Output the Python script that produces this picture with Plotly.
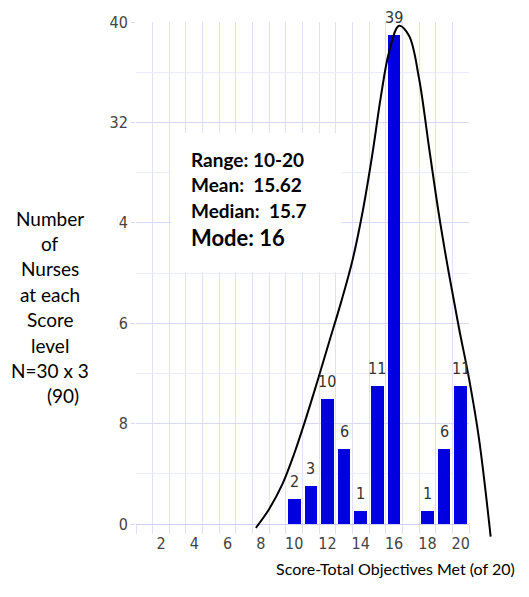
import plotly.graph_objects as go

# ---------------- data ----------------
scores = [10, 11, 12, 13, 14, 15, 16, 17, 18, 19, 20]
counts = [2, 3, 10, 6, 1, 11, 39, 0, 1, 6, 11]
x_tick_vals = [2, 4, 6, 8, 10, 12, 14, 16, 18, 20]
x_tick_text = ["2", "4", "6", "8", "10", "12", "14", "16", "18", "20"]
y_tick_vals = [0, 8, 16, 24, 32, 40]
y_tick_text = ["0", "8", "16", "24", "32", "40"]
y_minor_vals = [4, 12, 20, 28, 36]
curve_x = [7.7, 8.5, 9.3, 10.0, 10.7, 11.4, 12.1, 12.8, 13.5, 14.1, 14.7, 15.2,
           15.7, 16.3, 16.9, 17.5, 18.1, 18.7, 19.3, 19.9, 20.5, 21.1, 21.8]
curve_y = [-0.3, 1.2, 3.2, 5.6, 8.4, 11.4, 14.5, 17.6, 21.0, 24.8, 29.5, 34.0,
           37.6, 39.7, 38.9, 35.5, 30.0, 24.6, 19.9, 15.6, 11.6, 6.8, -1.0]
stats_lines = ["Range: 10-20", "Mean:  15.62", "Median:  15.7", "Mode: 16"]
ylabel_lines = ["Number", "of", "Nurses", "at each", "Score", "level", "N=30 x 3", "(90)"]
x_title = "Score-Total Objectives Met (of 20)"

# ---------------- geometry ----------------
W, H = 529, 597
L, R, T, B = 136, 29, 22, 52
PW, PH = W - L - R, H - T - B
X_LEFT_PX, X_RIGHT_PX = 136, 469
Y_TOP_PX, Y_BOT_PX = 22, 524
XR = [0.5, 20.5]
YR = [0, 40]
xs = (X_RIGHT_PX - X_LEFT_PX) / (XR[1] - XR[0])
ys = (Y_BOT_PX - Y_TOP_PX) / (YR[1] - YR[0])
dom_x = [0, (X_RIGHT_PX - L) / PW]
dom_y = [(T + PH - Y_BOT_PX) / PH, 1]
x2range = [XR[0], XR[0] + PW / xs]
y2range = [YR[1] - PH / ys, YR[1]]


def px2x(px):
    return XR[0] + (px - X_LEFT_PX) / xs


def py2y(py):
    return YR[1] - (py - Y_TOP_PX) / ys


def ppx(px):
    return (px - L) / PW


def ppy(py):
    return (T + PH - py) / PH


NARROW = "Liberation Sans Narrow, Arial Narrow, DejaVu Sans Condensed, sans-serif"
LATO = "Lato, Open Sans, sans-serif"
VGRID = "#e0e0fa"
YGRID = "#d8d8f7"
YMINOR = "#ebebfc"
AXLINE = "#d0d0f5"

fig = go.Figure()

fig.add_trace(go.Bar(
    x=scores, y=counts, width=0.76,
    marker=dict(color="#0000e0", line=dict(width=0)),
    hoverinfo="x+y", showlegend=False,
))

fig.add_trace(go.Scatter(
    x=curve_x, y=curve_y, mode="lines",
    line=dict(color="black", width=2, shape="spline", smoothing=1.0),
    xaxis="x2", yaxis="y2", showlegend=False, hoverinfo="skip",
))

annotations = []
for s, c in zip(scores, counts):
    if c > 0:
        annotations.append(dict(
            x=s, y=c, xref="x", yref="y", text=str(c), showarrow=False,
            yanchor="bottom", yshift=6,
            font=dict(family=NARROW, size=16, color="#333333"),
        ))

stat_y_px = [159, 184.5, 210, 237]
for i, line in enumerate(stats_lines):
    annotations.append(dict(
        x=px2x(189), y=py2y(stat_y_px[i]), xref="x", yref="y",
        text=line.replace("  ", " \u00a0"), showarrow=False,
        xanchor="left", yanchor="middle",
        font=dict(family=LATO, size=22 if i == 3 else 19, color="black", weight="bold"),
    ))

for i, line in enumerate(ylabel_lines):
    cx = 63 if i == len(ylabel_lines) - 1 else 50
    annotations.append(dict(
        x=ppx(cx), y=ppy(218 + i * 25.4), xref="paper", yref="paper",
        text=line, showarrow=False, xanchor="center", yanchor="middle",
        font=dict(family=LATO, size=19, color="black"),
    ))

annotations.append(dict(
    x=ppx(395), y=ppy(568), xref="paper", yref="paper", text=x_title,
    showarrow=False, xanchor="center", yanchor="middle",
    font=dict(family=LATO, size=16, color="black"),
))

shapes = [
    dict(type="rect", xref="x", yref="y", x0=px2x(171), x1=px2x(341),
         y0=20.08, y1=py2y(133), fillcolor="white", line=dict(width=0), layer="between"),
    dict(type="rect", xref="paper", yref="paper", x0=ppx(0), x1=ppx(117.5),
         y0=ppy(400), y1=ppy(195), fillcolor="white", line=dict(width=0), layer="above"),
]

fig.update_layout(
    width=W, height=H,
    margin=dict(l=L, r=R, t=T, b=B),
    paper_bgcolor="white", plot_bgcolor="rgba(0,0,0,0)",
    bargap=0,
    xaxis=dict(
        domain=dom_x, range=XR, anchor="y",
        tickmode="array", tickvals=x_tick_vals, ticktext=x_tick_text,
        ticks="outside", ticklen=5, tickcolor="rgba(0,0,0,0)",
        showgrid=False, zeroline=False,
        showline=True, linecolor=AXLINE, linewidth=1,
        tickfont=dict(family=NARROW, size=16, color="#444444"),
        minor=dict(tickmode="linear", tick0=0.5, dtick=1, ticks="outside", ticklen=9,
                   tickcolor=VGRID, showgrid=True, gridcolor=VGRID, gridwidth=1),
        fixedrange=True,
    ),
    yaxis=dict(
        domain=dom_y, range=YR, anchor="x",
        tickmode="array", tickvals=y_tick_vals, ticktext=y_tick_text,
        ticks="outside", ticklen=4, tickcolor=YGRID,
        showgrid=True, gridcolor=YGRID, gridwidth=1, zeroline=False,
        showline=False,
        tickfont=dict(family=NARROW, size=16, color="#444444"),
        minor=dict(tickmode="array", tickvals=y_minor_vals, ticks="",
                   showgrid=True, gridcolor=YMINOR, gridwidth=1),
        fixedrange=True,
    ),
    xaxis2=dict(domain=[0, 1], range=x2range, anchor="y2", visible=False, fixedrange=True),
    yaxis2=dict(domain=[0, 1], range=y2range, anchor="x2", visible=False, fixedrange=True),
    annotations=annotations,
    shapes=shapes,
)

fig.write_html("out.html", config={"displayModeBar": False},
               post_script="document.body.style.margin='0px';")
